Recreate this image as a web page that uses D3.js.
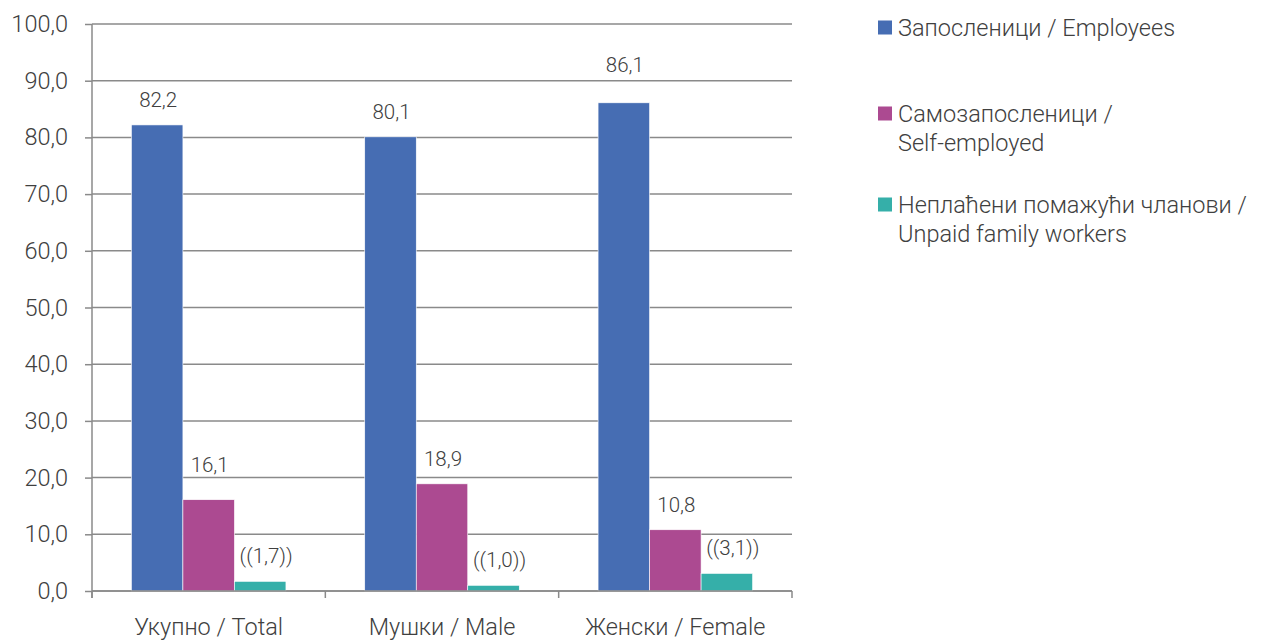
<!DOCTYPE html>
<html><head><meta charset="utf-8">
<script src="https://cdn.jsdelivr.net/npm/d3@7"></script>
<style>body{margin:0;background:#fff}svg{display:block;font-family:Roboto,"Noto Sans",sans-serif;font-weight:300}</style>
</head><body><svg id="c" width="1270" height="641"></svg>
<script>
const categories = ["Укупно / Total", "Мушки / Male", "Женски / Female"];
const seriesNames = [["Запосленици / Employees"], ["Самозапосленици /", "Self-employed"], ["Неплаћени помажући чланови /", "Unpaid family workers"]];
const employees = [82.2, 80.1, 86.1];
const selfEmployed = [16.1, 18.9, 10.8];
const unpaid = [1.7, 1.0, 3.1];
const yTicks = [0, 10, 20, 30, 40, 50, 60, 70, 80, 90, 100];
const colors = ["#466DB3", "#AC4A91", "#35AFA9"];
const series = [employees, selfEmployed, unpaid];
const labelFmt = [v => fmt(v), v => fmt(v), v => "((" + fmt(v) + "))"];
function fmt(v){ return d3.format(".1f")(v).replace(".", ","); }

const svg = d3.select("#c");
const L = 92, R = 792, T = 24, B = 591;
const FS = 23.5;
// manual label placement tweaks (series-category -> extra upward px), as in the original
const labelLift = {"1-0": 10, "0-2": 13};
const x0 = d3.scaleBand().domain(categories).range([L, R]).paddingInner(0).paddingOuter(0);
const x1 = d3.scaleBand().domain([0,1,2]).range([0, x0.bandwidth()]).paddingInner(0).paddingOuter(0.765);
const y = d3.scaleLinear().domain([0, 100]).range([B, T]);
const grid = "#8a8a8a", txt = "#404040";

// gridlines + y ticks
const yAxis = svg.append("g").attr("transform", `translate(${L},0)`)
  .call(d3.axisLeft(y).tickValues(yTicks).tickSize(7).tickPadding(17).tickFormat(fmt));
yAxis.select(".domain").remove();
yAxis.selectAll("line").attr("stroke", grid).attr("stroke-width", 1.5);
yAxis.selectAll("text").attr("font-size", FS).attr("fill", txt).attr("font-family", "Roboto").attr("font-weight", 300);
svg.append("g").selectAll("line").data(yTicks).join("line")
  .attr("x1", L).attr("x2", R).attr("y1", d => y(d)).attr("y2", d => y(d))
  .attr("stroke", grid).attr("stroke-width", 1.5);

// bars
const groups = svg.append("g").selectAll("g").data(categories).join("g")
  .attr("transform", d => `translate(${x0(d)},0)`);
series.forEach((s, si) => {
  groups.append("rect")
    .attr("x", x1(si)).attr("width", x1.bandwidth())
    .attr("y", (d, i) => y(s[i])).attr("height", (d, i) => B - y(s[i]))
    .attr("fill", colors[si]).attr("stroke", "#fff").attr("stroke-width", 0.6);
  groups.append("text")
    .attr("x", x1(si) + x1.bandwidth() / 2 + (si === 2 ? 6 : 1))
    .attr("y", (d, i) => y(s[i]) - 18 - (labelLift[si + "-" + i] || 0))
    .attr("text-anchor", "middle").attr("font-size", 20.5).attr("fill", txt)
    .text((d, i) => labelFmt[si](s[i]));
});

// y axis line and x axis
svg.append("line").attr("x1", L).attr("x2", L).attr("y1", T).attr("y2", B + 7).attr("stroke", grid).attr("stroke-width", 1.5);
const xAxis = svg.append("g").attr("transform", `translate(0,${B})`)
  .call(d3.axisBottom(x0).tickSize(0).tickPadding(27));
xAxis.select(".domain").attr("stroke", grid).attr("stroke-width", 1.5).attr("d", `M${L},0H${R}`);
xAxis.selectAll("text").attr("font-size", FS).attr("fill", txt).attr("font-family", "Roboto").attr("font-weight", 300);
svg.append("g").selectAll("line").data(categories.map((c, i) => i).concat([categories.length])).join("line")
  .attr("x1", i => i < categories.length ? x0(categories[i]) : R).attr("x2", i => i < categories.length ? x0(categories[i]) : R)
  .attr("y1", B).attr("y2", B + 7).attr("stroke", grid).attr("stroke-width", 1.5);

// legend
const legY = [28, 114, 205];
const leg = svg.append("g").selectAll("g").data(seriesNames).join("g")
  .attr("transform", (d, i) => `translate(878,${legY[i]})`);
leg.append("rect").attr("x", 0).attr("y", -7.5).attr("width", 14).attr("height", 14).attr("fill", (d, i) => colors[i]);
leg.each(function(lines){
  const t = d3.select(this).append("text").attr("font-size", FS).attr("fill", txt);
  lines.forEach((ln, j) => t.append("tspan").attr("x", 20).attr("y", j * 28.5).attr("dy", "0.35em").text(ln));
});
</script></body></html>
